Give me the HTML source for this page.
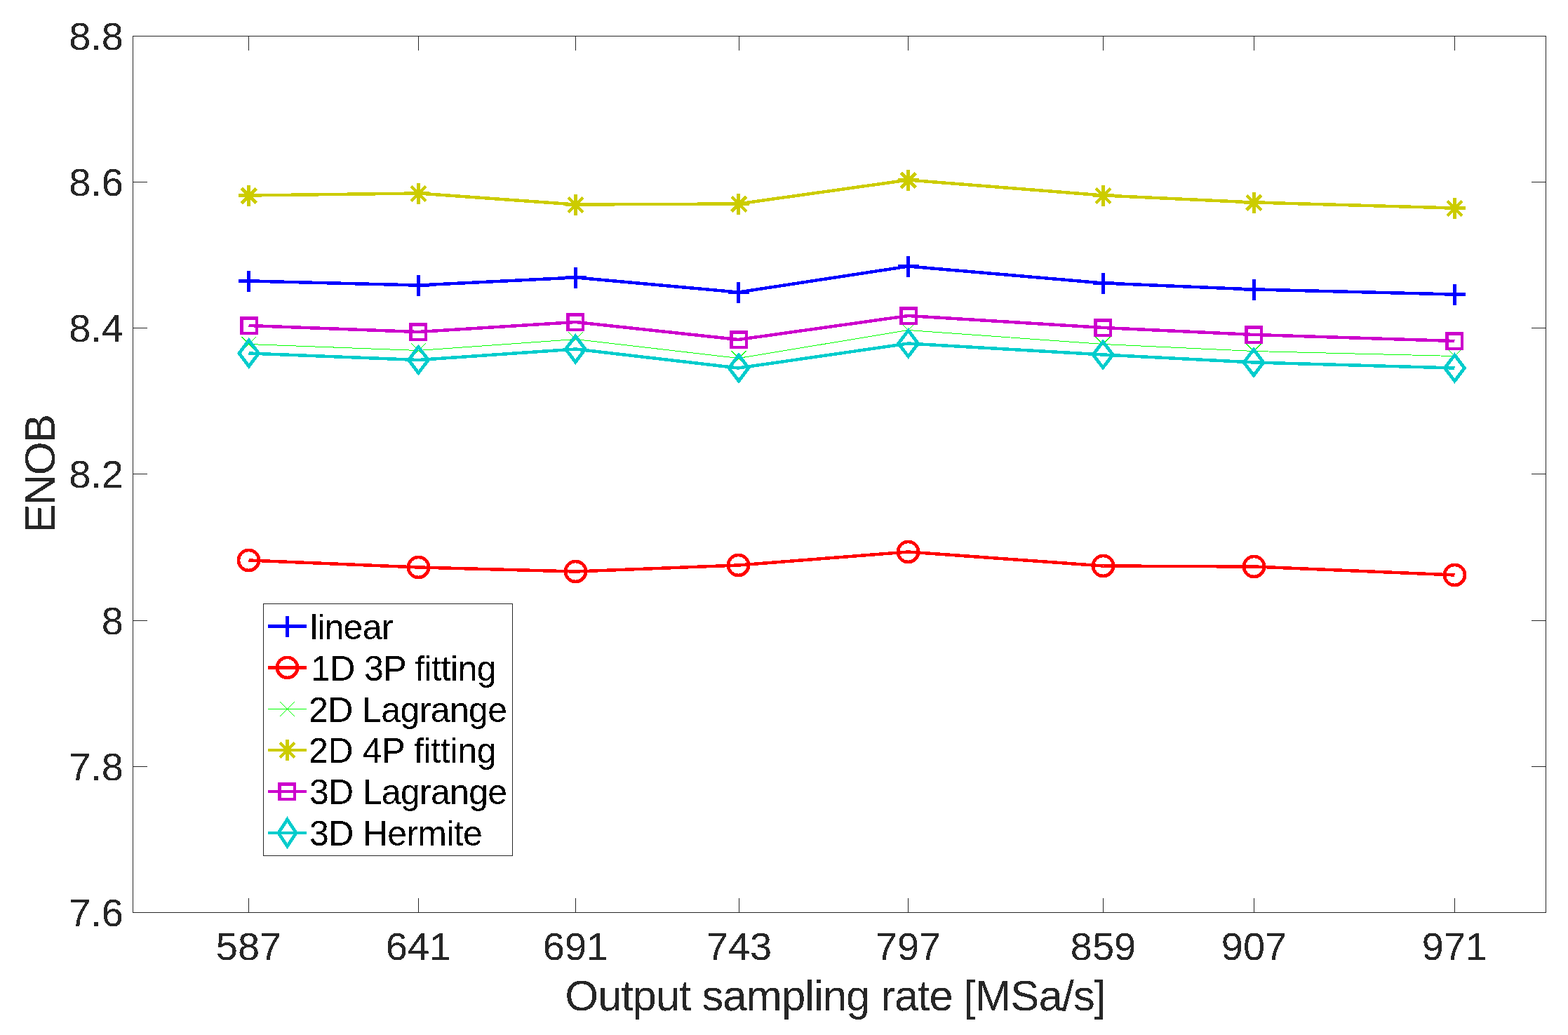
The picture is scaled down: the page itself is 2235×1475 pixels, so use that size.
<!DOCTYPE html>
<html><head><meta charset="utf-8"><title>ENOB vs output sampling rate</title>
<style>
html,body{margin:0;padding:0;background:#fff;}
body{width:2235px;height:1475px;overflow:hidden;}
svg{display:block;}
text{font-family:"Liberation Sans",Arial,Helvetica,sans-serif;}
</style></head><body>
<svg width="2235" height="1475" viewBox="0 0 2235 1475">
<defs><filter id="al" x="-5%" y="-5%" width="110%" height="110%" color-interpolation-filters="sRGB"><feComponentTransfer><feFuncA type="discrete" tableValues="0 1"/></feComponentTransfer></filter></defs>
<rect x="0" y="0" width="2235" height="1475" fill="#ffffff"/>

<g stroke="#262626" stroke-width="1" fill="none" shape-rendering="crispEdges"><rect x="189.5" y="51.5" width="2014" height="1249"/><path d="M354.5 1300V1280M354.5 51V72M596.5 1300V1280M596.5 51V72M820.5 1300V1280M820.5 51V72M1053.5 1300V1280M1053.5 51V72M1294.5 1300V1280M1294.5 51V72M1572.5 1300V1280M1572.5 51V72M1787.5 1300V1280M1787.5 51V72M2073.5 1300V1280M2073.5 51V72M189 1300.5H210M2204 1300.5H2183M189 1092.5H210M2204 1092.5H2183M189 884.5H210M2204 884.5H2183M189 675.5H210M2204 675.5H2183M189 467.5H210M2204 467.5H2183M189 259.5H210M2204 259.5H2183M189 51.5H210M2204 51.5H2183"/></g>
<g filter="url(#al)"><g fill="#262626" font-size="56"><text x="354.5" y="1368" text-anchor="middle">587</text><text x="596.5" y="1368" text-anchor="middle">641</text><text x="820.5" y="1368" text-anchor="middle">691</text><text x="1053.5" y="1368" text-anchor="middle">743</text><text x="1294.5" y="1368" text-anchor="middle">797</text><text x="1572.5" y="1368" text-anchor="middle">859</text><text x="1787.5" y="1368" text-anchor="middle">907</text><text x="2073.5" y="1368" text-anchor="middle">971</text><text x="176" y="1320" text-anchor="end">7.6</text><text x="176" y="1112" text-anchor="end">7.8</text><text x="176" y="904" text-anchor="end">8</text><text x="176" y="695" text-anchor="end">8.2</text><text x="176" y="487" text-anchor="end">8.4</text><text x="176" y="279" text-anchor="end">8.6</text><text x="176" y="71" text-anchor="end">8.8</text></g><text x="805.20" y="1440" font-size="61.6" fill="#262626" textLength="771.66" lengthAdjust="spacing">Output sampling rate [MSa/s]</text><text transform="translate(78 675.5) rotate(-90)" x="-84.00" y="0" font-size="61.6" fill="#262626" textLength="169.56" lengthAdjust="spacing">ENOB</text></g>
<g shape-rendering="crispEdges"><polyline points="354.5,400.5 596.5,406.5 820.5,395.5 1052.5,416.5 1294.5,379.5 1572.5,403.5 1787.5,412.5 2073.5,419.5" stroke="#0000FF" stroke-width="4.5" fill="none" stroke-linejoin="miter"/><path d="M340 398H370V403H340ZM352 386H357V416H352Z" fill="#0000FF"/><path d="M582 404H612V409H582ZM594 392H599V422H594Z" fill="#0000FF"/><path d="M806 393H836V398H806ZM818 381H823V411H818Z" fill="#0000FF"/><path d="M1038 414H1068V419H1038ZM1050 402H1055V432H1050Z" fill="#0000FF"/><path d="M1280 377H1310V382H1280ZM1292 365H1297V395H1292Z" fill="#0000FF"/><path d="M1558 401H1588V406H1558ZM1570 389H1575V419H1570Z" fill="#0000FF"/><path d="M1773 410H1803V415H1773ZM1785 398H1790V428H1785Z" fill="#0000FF"/><path d="M2059 417H2089V422H2059ZM2071 405H2076V435H2071Z" fill="#0000FF"/><polyline points="354.5,798.5 596.5,808.5 820.5,814.5 1052.5,805.5 1294.5,786.5 1572.5,806.5 1787.5,807.5 2073.5,819.5" stroke="#FF0000" stroke-width="4.5" fill="none" stroke-linejoin="miter"/><circle cx="354.5" cy="798.5" r="14.5" stroke="#FF0000" stroke-width="4.8" fill="none"/><circle cx="596.5" cy="808.5" r="14.5" stroke="#FF0000" stroke-width="4.8" fill="none"/><circle cx="820.5" cy="814.5" r="14.5" stroke="#FF0000" stroke-width="4.8" fill="none"/><circle cx="1052.5" cy="805.5" r="14.5" stroke="#FF0000" stroke-width="4.8" fill="none"/><circle cx="1294.5" cy="786.5" r="14.5" stroke="#FF0000" stroke-width="4.8" fill="none"/><circle cx="1572.5" cy="806.5" r="14.5" stroke="#FF0000" stroke-width="4.8" fill="none"/><circle cx="1787.5" cy="807.5" r="14.5" stroke="#FF0000" stroke-width="4.8" fill="none"/><circle cx="2073.5" cy="819.5" r="14.5" stroke="#FF0000" stroke-width="4.8" fill="none"/><polyline points="354.5,490.5 596.5,499.5 820.5,483.5 1052.5,510.5 1294.5,470.5 1572.5,490.5 1787.5,500.5 2073.5,507.5" stroke="#00FF00" stroke-width="1" fill="none" stroke-linejoin="miter"/><path d="M344.29555555555555 480.0L365.29555555555555 501.0M344.29555555555555 501.0L365.29555555555555 480.0" stroke="#00FF00" stroke-width="1" fill="none"/><path d="M585.9755555555556 489.0L606.9755555555556 510.0M585.9755555555556 510.0L606.9755555555556 489.0" stroke="#00FF00" stroke-width="1" fill="none"/><path d="M809.7533333333333 473.0L830.7533333333333 494.0M809.7533333333333 494.0L830.7533333333333 473.0" stroke="#00FF00" stroke-width="1" fill="none"/><path d="M1042.4822222222222 500.0L1063.4822222222222 521.0M1042.4822222222222 521.0L1063.4822222222222 500.0" stroke="#00FF00" stroke-width="1" fill="none"/><path d="M1284.1622222222222 460.0L1305.1622222222222 481.0M1284.1622222222222 481.0L1305.1622222222222 460.0" stroke="#00FF00" stroke-width="1" fill="none"/><path d="M1561.6466666666668 480.0L1582.6466666666668 501.0M1561.6466666666668 501.0L1582.6466666666668 480.0" stroke="#00FF00" stroke-width="1" fill="none"/><path d="M1776.4733333333334 490.0L1797.4733333333334 511.0M1776.4733333333334 511.0L1797.4733333333334 490.0" stroke="#00FF00" stroke-width="1" fill="none"/><path d="M2062.9088888888887 497.0L2083.9088888888887 518.0M2062.9088888888887 518.0L2083.9088888888887 497.0" stroke="#00FF00" stroke-width="1" fill="none"/><polyline points="354.5,278.5 596.5,275.5 820.5,291.5 1052.5,290.5 1294.5,256.5 1572.5,278.5 1787.5,288.5 2073.5,296.5" stroke="#CCCC00" stroke-width="4.5" fill="none" stroke-linejoin="miter"/><path d="M340 276H370V281H340ZM352 264H357V294H352Z" fill="#CCCC00"/><path d="M344.49555555555554 268.5L365.49555555555554 289.5M344.49555555555554 289.5L365.49555555555554 268.5" stroke="#CCCC00" stroke-width="4.5" fill="none"/><path d="M582 273H612V278H582ZM594 261H599V291H594Z" fill="#CCCC00"/><path d="M586.1755555555557 265.5L607.1755555555557 286.5M586.1755555555557 286.5L607.1755555555557 265.5" stroke="#CCCC00" stroke-width="4.5" fill="none"/><path d="M806 289H836V294H806ZM818 277H823V307H818Z" fill="#CCCC00"/><path d="M809.9533333333334 281.5L830.9533333333334 302.5M809.9533333333334 302.5L830.9533333333334 281.5" stroke="#CCCC00" stroke-width="4.5" fill="none"/><path d="M1038 288H1068V293H1038ZM1050 276H1055V306H1050Z" fill="#CCCC00"/><path d="M1042.6822222222222 280.5L1063.6822222222222 301.5M1042.6822222222222 301.5L1063.6822222222222 280.5" stroke="#CCCC00" stroke-width="4.5" fill="none"/><path d="M1280 254H1310V259H1280ZM1292 242H1297V272H1292Z" fill="#CCCC00"/><path d="M1284.3622222222223 246.5L1305.3622222222223 267.5M1284.3622222222223 267.5L1305.3622222222223 246.5" stroke="#CCCC00" stroke-width="4.5" fill="none"/><path d="M1558 276H1588V281H1558ZM1570 264H1575V294H1570Z" fill="#CCCC00"/><path d="M1561.8466666666668 268.5L1582.8466666666668 289.5M1561.8466666666668 289.5L1582.8466666666668 268.5" stroke="#CCCC00" stroke-width="4.5" fill="none"/><path d="M1773 286H1803V291H1773ZM1785 274H1790V304H1785Z" fill="#CCCC00"/><path d="M1776.6733333333334 278.5L1797.6733333333334 299.5M1776.6733333333334 299.5L1797.6733333333334 278.5" stroke="#CCCC00" stroke-width="4.5" fill="none"/><path d="M2059 294H2089V299H2059ZM2071 282H2076V312H2071Z" fill="#CCCC00"/><path d="M2063.1088888888885 286.5L2084.1088888888885 307.5M2063.1088888888885 307.5L2084.1088888888885 286.5" stroke="#CCCC00" stroke-width="4.5" fill="none"/><polyline points="354.5,464 596.5,473 820.5,459 1052.5,484 1294.5,450 1572.5,467 1787.5,477 2073.5,486" stroke="#CC00CC" stroke-width="4.5" fill="none" stroke-linejoin="miter"/><rect x="344.25" y="453.25" width="21.5" height="21.5" stroke="#CC00CC" stroke-width="4.5" fill="none"/><rect x="585.25" y="462.25" width="21.5" height="21.5" stroke="#CC00CC" stroke-width="4.5" fill="none"/><rect x="809.25" y="448.25" width="21.5" height="21.5" stroke="#CC00CC" stroke-width="4.5" fill="none"/><rect x="1042.25" y="473.25" width="21.5" height="21.5" stroke="#CC00CC" stroke-width="4.5" fill="none"/><rect x="1284.25" y="439.25" width="21.5" height="21.5" stroke="#CC00CC" stroke-width="4.5" fill="none"/><rect x="1561.25" y="456.25" width="21.5" height="21.5" stroke="#CC00CC" stroke-width="4.5" fill="none"/><rect x="1776.25" y="466.25" width="21.5" height="21.5" stroke="#CC00CC" stroke-width="4.5" fill="none"/><rect x="2062.25" y="475.25" width="21.5" height="21.5" stroke="#CC00CC" stroke-width="4.5" fill="none"/><polyline points="354.5,503.5 596.5,513 820.5,497.5 1052.5,524.5 1294.5,489.5 1572.5,505.5 1787.5,516.5 2073.5,524.5" stroke="#00CCCC" stroke-width="4.5" fill="none" stroke-linejoin="miter"/><path d="M340.79555555555555 503.5L354.79555555555555 485.0L368.79555555555555 503.5L354.79555555555555 522.0Z" stroke="#00CCCC" stroke-width="4.75" fill="none" stroke-miterlimit="10"/><path d="M582.4755555555556 513L596.4755555555556 494.5L610.4755555555556 513L596.4755555555556 531.5Z" stroke="#00CCCC" stroke-width="4.75" fill="none" stroke-miterlimit="10"/><path d="M806.2533333333333 497.5L820.2533333333333 479.0L834.2533333333333 497.5L820.2533333333333 516.0Z" stroke="#00CCCC" stroke-width="4.75" fill="none" stroke-miterlimit="10"/><path d="M1038.9822222222222 524.5L1052.9822222222222 506.0L1066.9822222222222 524.5L1052.9822222222222 543.0Z" stroke="#00CCCC" stroke-width="4.75" fill="none" stroke-miterlimit="10"/><path d="M1280.6622222222222 489.5L1294.6622222222222 471.0L1308.6622222222222 489.5L1294.6622222222222 508.0Z" stroke="#00CCCC" stroke-width="4.75" fill="none" stroke-miterlimit="10"/><path d="M1558.1466666666668 505.5L1572.1466666666668 487.0L1586.1466666666668 505.5L1572.1466666666668 524.0Z" stroke="#00CCCC" stroke-width="4.75" fill="none" stroke-miterlimit="10"/><path d="M1772.9733333333334 516.5L1786.9733333333334 498.0L1800.9733333333334 516.5L1786.9733333333334 535.0Z" stroke="#00CCCC" stroke-width="4.75" fill="none" stroke-miterlimit="10"/><path d="M2059.4088888888887 524.5L2073.4088888888887 506.0L2087.4088888888887 524.5L2073.4088888888887 543.0Z" stroke="#00CCCC" stroke-width="4.75" fill="none" stroke-miterlimit="10"/></g>
<rect x="375.5" y="860.5" width="355" height="359" fill="#ffffff" stroke="#262626" stroke-width="1" shape-rendering="crispEdges"/><g shape-rendering="crispEdges"><path d="M382 892.50H437" stroke="#0000FF" stroke-width="4.5" fill="none"/><path d="M395 890H425V895H395ZM407 878H412V908H407Z" fill="#0000FF"/><path d="M382 951.40H437" stroke="#FF0000" stroke-width="4.5" fill="none"/><circle cx="409.5" cy="951.4" r="14.5" stroke="#FF0000" stroke-width="4.8" fill="none"/><path d="M382 1010.30H437" stroke="#00FF00" stroke-width="1" fill="none"/><path d="M399.0 999.8L420.0 1020.8M399.0 1020.8L420.0 999.8" stroke="#00FF00" stroke-width="1" fill="none"/><path d="M382 1069.20H437" stroke="#CCCC00" stroke-width="4.5" fill="none"/><path d="M395 1067H425V1071H395ZM407 1054H412V1084H407Z" fill="#CCCC00"/><path d="M398.75 1058.5L419.75 1079.5M398.75 1079.5L419.75 1058.5" stroke="#CCCC00" stroke-width="4.5" fill="none"/><path d="M382 1128.10H437" stroke="#CC00CC" stroke-width="4.5" fill="none"/><rect x="398.25" y="1117.25" width="21.5" height="21.5" stroke="#CC00CC" stroke-width="4.5" fill="none"/><path d="M382 1187.00H437" stroke="#00CCCC" stroke-width="4.5" fill="none"/><path d="M396.8 1187.0L409.5 1167.8L422.2 1187.0L409.5 1206.2Z" stroke="#00CCCC" stroke-width="4.75" fill="none" stroke-miterlimit="10"/></g><g fill="#000000" font-size="50" filter="url(#al)"><text x="442.00" y="911.0" textLength="118.30" lengthAdjust="spacing">linear</text><text x="443.00" y="969.8" textLength="264.47" lengthAdjust="spacing">1D 3P fitting</text><text x="440.00" y="1028.6" textLength="283.12" lengthAdjust="spacing">2D Lagrange</text><text x="440.00" y="1087.4" textLength="267.47" lengthAdjust="spacing">2D 4P fitting</text><text x="441.00" y="1146.2" textLength="282.12" lengthAdjust="spacing">3D Lagrange</text><text x="441.00" y="1205.0" textLength="246.84" lengthAdjust="spacing">3D Hermite</text></g>
</svg></body></html>
